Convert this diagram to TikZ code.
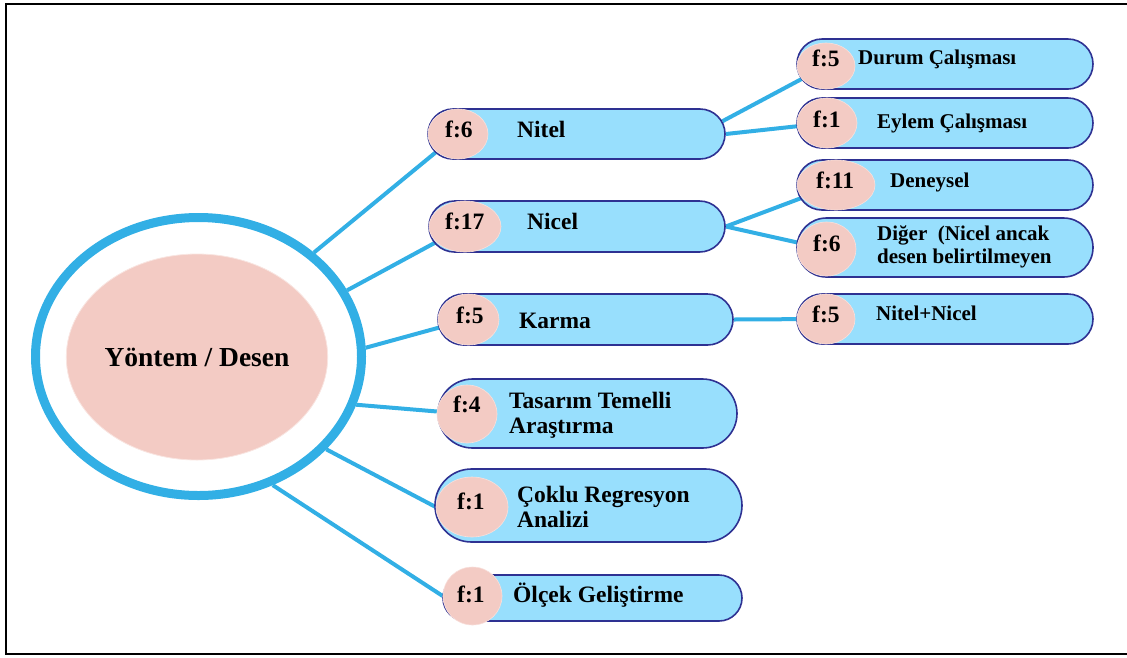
\documentclass[tikz,border=0pt]{standalone}
\usepackage{fontspec}
\setmainfont{Liberation Serif}
\usetikzlibrary{shapes.geometric,shapes.misc,backgrounds}
\definecolor{linkblue}{RGB}{50,175,229}
\definecolor{pillblue}{RGB}{152,223,253}
\definecolor{navyedge}{RGB}{46,49,146}
\definecolor{badgepink}{RGB}{243,203,196}
\begin{document}
\begin{tikzpicture}[x=1pt,y=-1pt,
  pill/.style={rounded rectangle, draw=navyedge, line width=1.6pt, fill=pillblue, inner sep=0pt},
  badge/.style={ellipse, fill=badgepink, draw=badgepink!60!white, line width=0.6pt, inner sep=0pt},
  link/.style={draw=linkblue, line width=4pt},
  ftxt/.style={anchor=base west, inner sep=0pt, font=\bfseries\fontsize{23.5}{25}\selectfont},
  maintxt/.style={anchor=base west, inner sep=0pt, align=left, font=\bfseries\fontsize{23.5}{25}\selectfont},
  subtxt/.style={anchor=base west, inner sep=0pt, align=left, font=\bfseries\fontsize{21}{23}\selectfont},
]
\useasboundingbox (0,0) rectangle (1127,657);
% outer frame (open on the right side)
\draw[line width=2pt] (1127,4) -- (6,4) -- (6,654) -- (1127,654);

% central hub
\node[ellipse, draw=linkblue, line width=9pt, minimum width=326pt, minimum height=278pt, inner sep=0pt] (hub) at (198.5,356.5) {};
\node[ellipse, fill=badgepink, draw=badgepink!50!white, line width=0.8pt, minimum width=252pt, minimum height=206pt, inner sep=0pt,
      font=\bfseries\fontsize{27.5}{30}\selectfont] (core) at (197,357) {Yöntem / Desen};

% first level
\node[pill, minimum width=297pt, minimum height=50pt] (nitel) at (576.5,134) {};
\node[badge, minimum width=60pt, minimum height=50pt] (nitelF) at (458,134) {};
\node[ftxt] (nitelN) at (445,137) {f:6};
\node[maintxt] (nitelL) at (517,137) {Nitel};

\node[pill, minimum width=296pt, minimum height=51pt] (nicel) at (577,226.5) {};
\node[badge, minimum width=72pt, minimum height=51pt] (nicelF) at (465,226.5) {};
\node[ftxt] (nicelN) at (445,229) {f:17};
\node[maintxt] (nicelL) at (527,229) {Nicel};

\node[pill, minimum width=295pt, minimum height=51pt] (karma) at (585.5,319.5) {};
\node[badge, minimum width=61pt, minimum height=51pt] (karmaF) at (468.5,319.5) {};
\node[ftxt] (karmaN) at (456,323) {f:5};
\node[maintxt] (karmaL) at (519,328) {Karma};

\node[pill, minimum width=299pt, minimum height=69pt] (tasarim) at (587.5,413.5) {};
\node[badge, minimum width=60pt, minimum height=58pt] (tasarimF) at (467,414) {};
\node[ftxt] (tasarimN) at (453,412) {f:4};
\node[maintxt] (tasarimL) at (509,433) {Tasarım Temelli\\Araştırma};

\node[pill, minimum width=307pt, minimum height=73pt] (coklu) at (588.5,505.5) {};
\node[badge, minimum width=72pt, minimum height=60pt] (cokluF) at (472,507) {};
\node[ftxt] (cokluN) at (457,509) {f:1};
\node[maintxt] (cokluL) at (517,527) {Çoklu Regresyon\\Analizi};

\node[pill, minimum width=299pt, minimum height=46pt] (olcek) at (592.5,598) {};
\node[badge, minimum width=59pt, minimum height=58pt] (olcekF) at (472.5,596) {};
\node[ftxt] (olcekN) at (457,602) {f:1};
\node[maintxt] (olcekL) at (513,602) {Ölçek Geliştirme};

% second level
\node[pill, minimum width=296pt, minimum height=50pt] (durum) at (945,64) {};
\node[badge, minimum width=58pt, minimum height=46pt] (durumF) at (826,66) {};
\node[ftxt] (durumN) at (812,66) {f:5};
\node[subtxt] (durumL) at (858,64) {Durum Çalışması};

\node[pill, minimum width=296pt, minimum height=50pt] (eylem) at (945,123) {};
\node[badge, minimum width=60pt, minimum height=50pt] (eylemF) at (827,123) {};
\node[ftxt] (eylemN) at (813,127) {f:1};
\node[subtxt] (eylemL) at (877,128) {Eylem Çalışması};

\node[pill, minimum width=296pt, minimum height=50pt] (deney) at (945,185) {};
\node[badge, minimum width=78pt, minimum height=50pt] (deneyF) at (836,185) {};
\node[ftxt] (deneyN) at (816,188) {f:11};
\node[subtxt] (deneyL) at (890,187) {Deneysel};

\node[pill, minimum width=296pt, minimum height=59pt] (diger) at (945,247.5) {};
\node[badge, minimum width=59pt, minimum height=54pt] (digerF) at (826.5,249) {};
\node[ftxt] (digerN) at (813,251) {f:6};
\node[subtxt] (digerL) at (877,263) {Diğer~ (Nicel ancak\\desen belirtilmeyen};

\node[pill, minimum width=296pt, minimum height=50pt] (karisik) at (945,319) {};
\node[badge, minimum width=58pt, minimum height=50pt] (karisikF) at (826,319) {};
\node[ftxt] (karisikN) at (812,322) {f:5};
\node[subtxt] (karisikL) at (876,320) {Nitel+Nicel};

% connectors, kept beneath the boxes
\begin{pgfonlayer}{background}
\draw[link] (hub.42) -- (nitelF);
\draw[link] (hub.24) -- (nicelF);
\draw[link] (hub.3.6) -- (karmaF);
\draw[link] (hub.-17) -- (tasarimF);
\draw[link] (hub.-36.7) -- (cokluF.west);
\draw[link] (hub.-60.2) -- (olcekF.west);
\draw[link] (nitel.5.5) -- (durumF);
\draw[link] (nitel.east) -- (eylemF);
\draw[link] (nicel.east) -- (deneyF);
\draw[link] (nicel.east) -- (digerF);
\draw[link] (karma.east) -- (karisikF);
\end{pgfonlayer}
\end{tikzpicture}
\end{document}
